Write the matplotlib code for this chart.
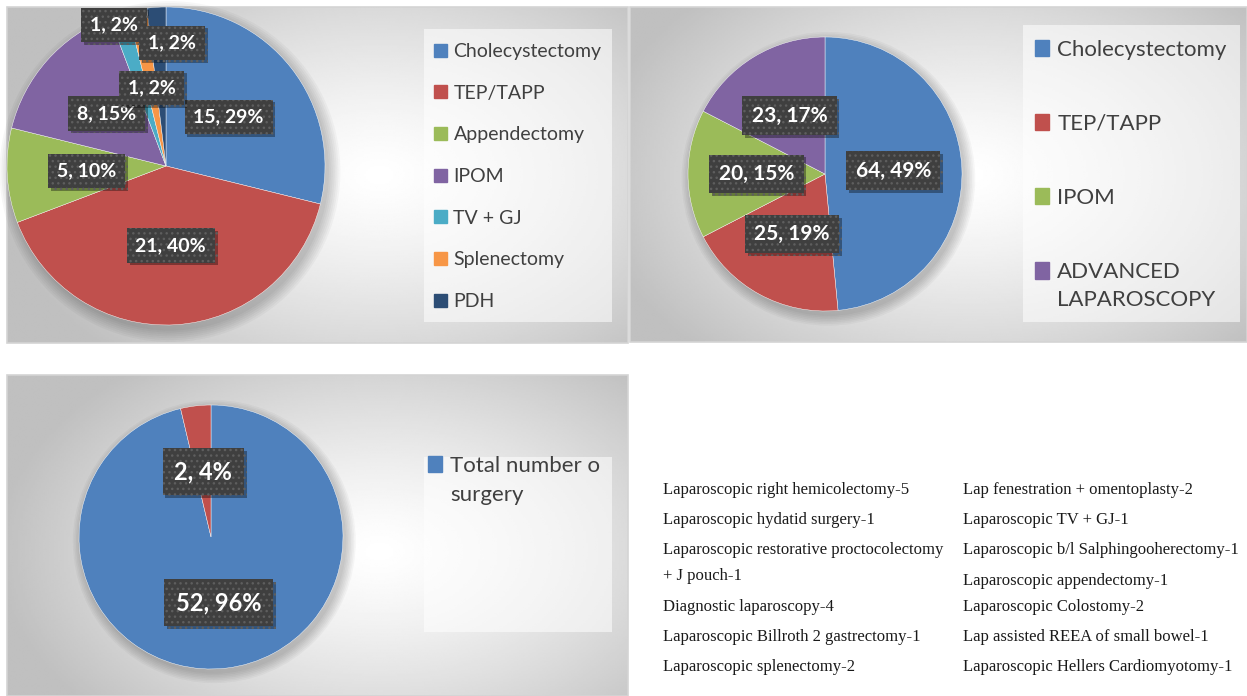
import matplotlib
matplotlib.use("Agg")
from matplotlib import pyplot as plt
import matplotlib.patches as mpatches
import matplotlib.patheffects as pe
import numpy as np

W, H = 1247, 696

# ---- data ----
p1_labels = ["Cholecystectomy", "TEP/TAPP", "Appendectomy", "IPOM",
             "TV + GJ", "Splenectomy", "PDH"]
p1_values = [15, 21, 5, 8, 1, 1, 1]
p1_pct = [29, 40, 10, 15, 2, 2, 2]

p2_labels = ["Cholecystectomy", "TEP/TAPP", "IPOM", "ADVANCED\nLAPAROSCOPY"]
p2_values = [64, 25, 20, 23]
p2_pct = [49, 19, 15, 17]

p3_labels = ["Total number o\nsurgery"]
p3_values = [52, 2]
p3_pct = [96, 4]

table_left = ["Laparoscopic right hemicolectomy-5",
              "Laparoscopic hydatid surgery-1",
              "Laparoscopic restorative proctocolectomy",
              "+ J pouch-1",
              "Diagnostic laparoscopy-4",
              "Laparoscopic Billroth 2 gastrectomy-1",
              "Laparoscopic splenectomy-2"]
table_right = ["Lap fenestration + omentoplasty-2",
               "Laparoscopic TV + GJ-1",
               "Laparoscopic b/l Salphingooherectomy-1",
               "Laparoscopic appendectomy-1",
               "Laparoscopic Colostomy-2",
               "Lap assisted REEA of small bowel-1",
               "Laparoscopic Hellers Cardiomyotomy-1"]

office = ["#4F81BD", "#C0504D", "#9BBB59", "#8064A2", "#4BACC6", "#F79646", "#2C4D75"]

FONT = "Lato"

fig = plt.figure(figsize=(W / 100, H / 100), dpi=100)
fig.patch.set_facecolor("white")


def px_rect(x0, y0, x1, y1):
    return [x0 / W, 1 - y1 / H, (x1 - x0) / W, (y1 - y0) / H]


def panel(x0, y0, x1, y1, cx=0.6, cy=0.5):
    ax = fig.add_axes(px_rect(x0, y0, x1, y1))
    ny, nx = 200, 300
    xx, yy = np.meshgrid(np.linspace(0, 1, nx), np.linspace(0, 1, ny))
    d = np.sqrt(((xx - cx) / 0.62) ** 2 + ((yy - cy) / 0.75) ** 2)
    g = 1 - 0.25 * np.clip(d, 0, 1) ** 1.3
    ax.imshow(g, cmap="gray", vmin=0, vmax=1, extent=(0, 1, 0, 1),
              aspect="auto", interpolation="bilinear")
    ax.set_xlim(0, 1)
    ax.set_ylim(0, 1)
    ax.axis("off")
    ax.add_patch(mpatches.Rectangle((0, 0), 1, 1, transform=ax.transAxes,
                                    fill=False, edgecolor="#d4d4d4", lw=1.2,
                                    clip_on=False))
    return ax


def legend_box(ax, x0, y0, x1, y1):
    r = px_rect(x0, y0, x1, y1)
    ax.add_patch(mpatches.Rectangle((r[0], r[1]), r[2], r[3],
                                    transform=fig.transFigure,
                                    facecolor="white", alpha=0.55,
                                    edgecolor="none", clip_on=False))


def draw_pie(rect, values, colors, pct, fs, pad=0.45, overrides=None):
    ax = fig.add_axes(rect)
    for k in range(7):
        ax.add_patch(mpatches.Circle((0.025, -0.035), 1.0 + 0.012 * k,
                                     color="black", alpha=0.03, lw=0,
                                     zorder=0, clip_on=False))
    wedges, _ = ax.pie(values, colors=colors, startangle=90, counterclock=False,
                       radius=1, wedgeprops=dict(edgecolor="white", linewidth=0.3))
    ax.set_aspect("auto")
    ax.set_xlim(-1, 1)
    ax.set_ylim(-1, 1)
    ax.axis("off")
    for i, w in enumerate(wedges):
        w.set_clip_on(False)
        ang = np.deg2rad((w.theta1 + w.theta2) / 2)
        x, y = 0.5 * np.cos(ang), 0.5 * np.sin(ang)
        if overrides and i in overrides:
            x, y = overrides[i]
        t = ax.text(x, y, f"{values[i]}, {pct[i]}%", ha="center", va="center",
                    color="white", fontsize=fs, fontweight="bold", family=FONT,
                    zorder=5,
                    bbox=dict(boxstyle=f"square,pad={pad}", facecolor="#3f3f3f",
                              edgecolor="#5e5e5e", linewidth=0, hatch="..."))
        t.get_bbox_patch().set_path_effects(
            [pe.withSimplePatchShadow(offset=(2, -2), shadow_rgbFace="black", alpha=0.35)])
    return ax


def make_legend(colors, labels, x, y, size, spacing, hh=0.65):
    # legend shows first line of each label; extra lines are set below it
    handles = [mpatches.Patch(color=c, label=l.split("\n")[0])
               for c, l in zip(colors, labels)]
    leg = fig.legend(handles=handles, loc="upper left",
                     bbox_to_anchor=(x / W, 1 - y / H),
                     frameon=False, prop=dict(family=FONT, size=size),
                     handlelength=0.65, handleheight=hh, handletextpad=0.35,
                     labelspacing=spacing, borderpad=0, borderaxespad=0)
    for t in leg.get_texts():
        t.set_color("#404040")
    return leg


def extra_lines(leg, labels, pitch, size):
    fig.canvas.draw()
    for t, l in zip(leg.get_texts(), labels):
        rest = l.split("\n")[1:]
        if not rest:
            continue
        bb = t.get_window_extent()
        yc = (bb.y0 + bb.y1) / 2
        for k, s in enumerate(rest, start=1):
            fig.text(bb.x0 / W, (yc - k * pitch) / H, s, ha="left", va="center",
                     fontsize=size, family=FONT, color="#404040", zorder=6)


# ---- panel 1 ----
bg1 = panel(7, 7, 628, 343, cx=0.6, cy=0.5)
legend_box(bg1, 424, 29, 612, 322)
draw_pie(px_rect(7, 7, 325, 325), p1_values, office, p1_pct, 14,
         overrides={4: (-0.327, 0.887), 6: (0.038, 0.774)})
leg1 = make_legend(office, p1_labels, 434, 43, 14, 1.27)

# ---- panel 2 ----
bg2 = panel(630, 7, 1247, 342, cx=0.55, cy=0.5)
legend_box(bg2, 1023, 25, 1240, 322)
draw_pie(px_rect(688, 37, 962, 311), p2_values, office[:4], p2_pct, 15)
leg2 = make_legend(office[:4], p2_labels, 1035, 39.5, 16, 2.44, hh=0.75)

# ---- panel 3 ----
bg3 = panel(7, 375, 628, 696, cx=0.6, cy=0.55)
legend_box(bg3, 424, 457, 612, 632)
draw_pie(px_rect(79, 405, 343, 669), p3_values, office[:2], p3_pct, 17, pad=0.5)
leg3 = make_legend(office[:1], p3_labels, 428, 456, 16, 1.0, hh=0.75)

# ---- text list ----
rows_left = [490, 520, 550, 576, 607, 637, 667]
rows_right = [490, 520, 550, 581, 607, 637, 667]
for s, y in zip(table_left, rows_left):
    fig.text(663 / W, 1 - y / H, s, ha="left", va="center", fontsize=12,
             family="Liberation Serif", color="#1a1a1a")
for s, y in zip(table_right, rows_right):
    fig.text(963 / W, 1 - y / H, s, ha="left", va="center", fontsize=12,
             family="Liberation Serif", color="#1a1a1a")

extra_lines(leg2, p2_labels, 28, 16)
extra_lines(leg3, p3_labels, 29, 16)

fig.savefig("out.png", dpi=100)
